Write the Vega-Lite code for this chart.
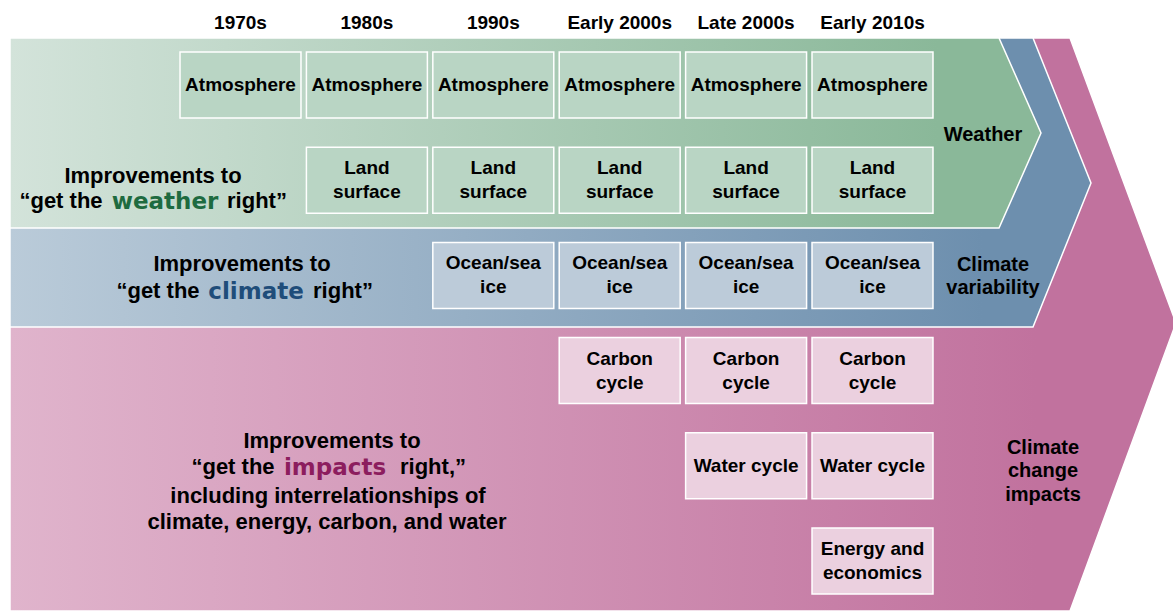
{
  "$schema": "https://vega.github.io/schema/vega-lite/v6.json",
  "width": 1173,
  "height": 611,
  "padding": 0,
  "autosize": "none",
  "background": "white",
  "config": {"view": {"stroke": null}},
  "datasets": {
    "shapes": [
      {"band": "impacts", "px": 10, "top": 38, "bottom": 611},
      {"band": "impacts", "px": 1070, "top": 38, "bottom": 611},
      {"band": "impacts", "px": 1176, "top": 323, "bottom": 323},
      {"band": "climate", "px": 10, "top": 38, "bottom": 327},
      {"band": "climate", "px": 1033, "top": 38, "bottom": 327},
      {"band": "climate", "px": 1091, "top": 183, "bottom": 183},
      {"band": "weather", "px": 10, "top": 38, "bottom": 228},
      {"band": "weather", "px": 999, "top": 38, "bottom": 228},
      {"band": "weather", "px": 1041, "top": 133, "bottom": 133}
    ],
    "labels": [
      {"role": "plain", "band": "weather", "text": "Improvements to", "px": 153, "py": 176},
      {"role": "plain", "band": "weather", "text": "“get the", "px": 61, "py": 201},
      {"role": "emph", "band": "weather", "text": "weather", "px": 165, "py": 202},
      {"role": "plain", "band": "weather", "text": "right”", "px": 257, "py": 201},
      {"role": "plain", "band": "climate", "text": "Improvements to", "px": 242, "py": 264},
      {"role": "plain", "band": "climate", "text": "“get the", "px": 158, "py": 291},
      {"role": "emph", "band": "climate", "text": "climate", "px": 256, "py": 292},
      {"role": "plain", "band": "climate", "text": "right”", "px": 343, "py": 291},
      {"role": "plain", "band": "impacts", "text": "Improvements to", "px": 332, "py": 441},
      {"role": "plain", "band": "impacts", "text": "“get the", "px": 233, "py": 467},
      {"role": "emph", "band": "impacts", "text": "impacts", "px": 335, "py": 468},
      {"role": "plain", "band": "impacts", "text": "right,”", "px": 433, "py": 467},
      {"role": "plain", "band": "impacts", "text": "including interrelationships of", "px": 328, "py": 496},
      {"role": "plain", "band": "impacts", "text": "climate, energy, carbon, and water", "px": 327, "py": 522},
      {"role": "side", "band": "weather", "text": "Weather", "px": 983, "py": 135},
      {"role": "side", "band": "climate", "text": "Climate", "px": 993, "py": 265},
      {"role": "side", "band": "climate", "text": "variability", "px": 993, "py": 288},
      {"role": "side", "band": "impacts", "text": "Climate", "px": 1043, "py": 448},
      {"role": "side", "band": "impacts", "text": "change", "px": 1043, "py": 471},
      {"role": "side", "band": "impacts", "text": "impacts", "px": 1043, "py": 495}
    ],
    "boxes": [
      {"decade": "1970s", "component": "Atmosphere", "label": "Atmosphere", "band": "weather"},
      {"decade": "1980s", "component": "Atmosphere", "label": "Atmosphere", "band": "weather"},
      {"decade": "1990s", "component": "Atmosphere", "label": "Atmosphere", "band": "weather"},
      {"decade": "Early 2000s", "component": "Atmosphere", "label": "Atmosphere", "band": "weather"},
      {"decade": "Late 2000s", "component": "Atmosphere", "label": "Atmosphere", "band": "weather"},
      {"decade": "Early 2010s", "component": "Atmosphere", "label": "Atmosphere", "band": "weather"},
      {"decade": "1980s", "component": "Land surface", "label": "Land\nsurface", "band": "weather"},
      {"decade": "1990s", "component": "Land surface", "label": "Land\nsurface", "band": "weather"},
      {"decade": "Early 2000s", "component": "Land surface", "label": "Land\nsurface", "band": "weather"},
      {"decade": "Late 2000s", "component": "Land surface", "label": "Land\nsurface", "band": "weather"},
      {"decade": "Early 2010s", "component": "Land surface", "label": "Land\nsurface", "band": "weather"},
      {"decade": "1990s", "component": "Ocean/sea ice", "label": "Ocean/sea\nice", "band": "climate"},
      {"decade": "Early 2000s", "component": "Ocean/sea ice", "label": "Ocean/sea\nice", "band": "climate"},
      {"decade": "Late 2000s", "component": "Ocean/sea ice", "label": "Ocean/sea\nice", "band": "climate"},
      {"decade": "Early 2010s", "component": "Ocean/sea ice", "label": "Ocean/sea\nice", "band": "climate"},
      {"decade": "Early 2000s", "component": "Carbon cycle", "label": "Carbon\ncycle", "band": "impacts"},
      {"decade": "Late 2000s", "component": "Carbon cycle", "label": "Carbon\ncycle", "band": "impacts"},
      {"decade": "Early 2010s", "component": "Carbon cycle", "label": "Carbon\ncycle", "band": "impacts"},
      {"decade": "Late 2000s", "component": "Water cycle", "label": "Water cycle", "band": "impacts"},
      {"decade": "Early 2010s", "component": "Water cycle", "label": "Water cycle", "band": "impacts"},
      {"decade": "Early 2010s", "component": "Energy and economics", "label": "Energy and\neconomics", "band": "impacts"}
    ]
  },
  "layer": [
    {
      "encoding": {
        "x": {"field": "px", "type": "quantitative", "scale": {"domain": [0, 1173], "nice": false, "zero": false}, "axis": null},
        "y": {"field": "py", "type": "quantitative", "scale": {"domain": [0, 611], "nice": false, "zero": false, "reverse": true}, "axis": null}
      },
      "layer": [
        {
          "data": {"name": "shapes"},
          "transform": [{"filter": "datum.band === 'impacts'"}],
          "mark": {"type": "area", "orient": "vertical", "stroke": "white", "strokeWidth": 1.5,
            "fill": {"gradient": "linear", "x1": 0, "x2": 1, "y1": 0, "y2": 0,
              "stops": [{"offset": 0, "color": "#e0b4cc"}, {"offset": 0.88, "color": "#c1729e"}, {"offset": 1, "color": "#c1729e"}]}},
          "encoding": {"x": {"field": "px", "type": "quantitative"}, "y": {"field": "top", "type": "quantitative"}, "y2": {"field": "bottom"}}
        },
        {
          "data": {"name": "shapes"},
          "transform": [{"filter": "datum.band === 'climate'"}],
          "mark": {"type": "area", "orient": "vertical", "stroke": "white", "strokeWidth": 1.5,
            "fill": {"gradient": "linear", "x1": 0, "x2": 1, "y1": 0, "y2": 0,
              "stops": [{"offset": 0, "color": "#bacbd9"}, {"offset": 0.9, "color": "#6d8fae"}, {"offset": 1, "color": "#6d8fae"}]}},
          "encoding": {"x": {"field": "px", "type": "quantitative"}, "y": {"field": "top", "type": "quantitative"}, "y2": {"field": "bottom"}}
        },
        {
          "data": {"name": "shapes"},
          "transform": [{"filter": "datum.band === 'weather'"}],
          "mark": {"type": "area", "orient": "vertical", "stroke": "white", "strokeWidth": 1.5,
            "fill": {"gradient": "linear", "x1": 0, "x2": 1, "y1": 0, "y2": 0,
              "stops": [{"offset": 0, "color": "#d3e3da"}, {"offset": 0.9, "color": "#8ab899"}, {"offset": 1, "color": "#8ab899"}]}},
          "encoding": {"x": {"field": "px", "type": "quantitative"}, "y": {"field": "top", "type": "quantitative"}, "y2": {"field": "bottom"}}
        },
        {
          "data": {"name": "labels"},
          "transform": [{"filter": "datum.role === 'plain'"}],
          "mark": {"type": "text", "font": "Liberation Sans, Arial", "fontWeight": "bold", "fontSize": 22, "color": "black", "align": "center", "baseline": "middle"},
          "encoding": {"text": {"field": "text"}}
        },
        {
          "data": {"name": "labels"},
          "transform": [{"filter": "datum.role === 'side'"}],
          "mark": {"type": "text", "font": "Liberation Sans, Arial", "fontWeight": "bold", "fontSize": 20, "color": "black", "align": "center", "baseline": "middle"},
          "encoding": {"text": {"field": "text"}}
        },
        {
          "data": {"name": "labels"},
          "transform": [{"filter": "datum.role === 'emph'"}],
          "mark": {"type": "text", "font": "DejaVu Sans", "fontWeight": "bold", "fontSize": 23, "align": "center", "baseline": "middle"},
          "encoding": {
            "text": {"field": "text"},
            "color": {"field": "band", "type": "nominal", "scale": {"domain": ["weather", "climate", "impacts"], "range": ["#1e6b40", "#1f4d7a", "#8c1d5e"]}, "legend": null}
          }
        }
      ]
    },
    {
      "data": {"name": "boxes"},
      "encoding": {
        "x": {"field": "decade", "type": "nominal",
          "scale": {"type": "band", "domain": ["1970s", "1980s", "1990s", "Early 2000s", "Late 2000s", "Early 2010s"], "range": [177.3, 935.7], "paddingInner": 0.043, "paddingOuter": 0.0215},
          "axis": {"orient": "top", "offset": -38, "title": null, "domain": false, "ticks": false, "tickSize": 0, "labelPadding": 10, "labelBaseline": "alphabetic", "labelAngle": 0,
            "labelFont": "Liberation Sans, Arial", "labelFontWeight": "bold", "labelFontSize": 19, "labelColor": "black", "grid": false}},
        "y": {"field": "component", "type": "nominal",
          "scale": {"type": "band", "domain": ["Atmosphere", "Land surface", "Ocean/sea ice", "Carbon cycle", "Water cycle", "Energy and economics"], "range": [37.4, 608.6], "paddingInner": 0.307, "paddingOuter": 0.1535},
          "axis": null}
      },
      "layer": [
        {
          "mark": {"type": "rect", "stroke": "white", "strokeWidth": 1.5},
          "encoding": {
            "color": {"field": "band", "type": "nominal", "scale": {"domain": ["weather", "climate", "impacts"], "range": ["#b9d5c4", "#bccbd9", "#ebd0df"]}, "legend": null}
          }
        },
        {
          "transform": [{"filter": "indexof(datum.label, '\\n') < 0"}],
          "mark": {"type": "text", "font": "Liberation Sans, Arial", "fontWeight": "bold", "fontSize": 19, "color": "black", "align": "center", "baseline": "middle"},
          "encoding": {"text": {"field": "label"}}
        },
        {
          "transform": [{"filter": "indexof(datum.label, '\\n') >= 0"}],
          "mark": {"type": "text", "font": "Liberation Sans, Arial", "fontWeight": "bold", "fontSize": 19, "color": "black", "align": "center", "baseline": "middle", "lineBreak": "\n", "lineHeight": 24, "dy": -12},
          "encoding": {"text": {"field": "label"}}
        }
      ]
    }
  ],
  "resolve": {"scale": {"x": "independent", "y": "independent", "color": "independent"}}
}
